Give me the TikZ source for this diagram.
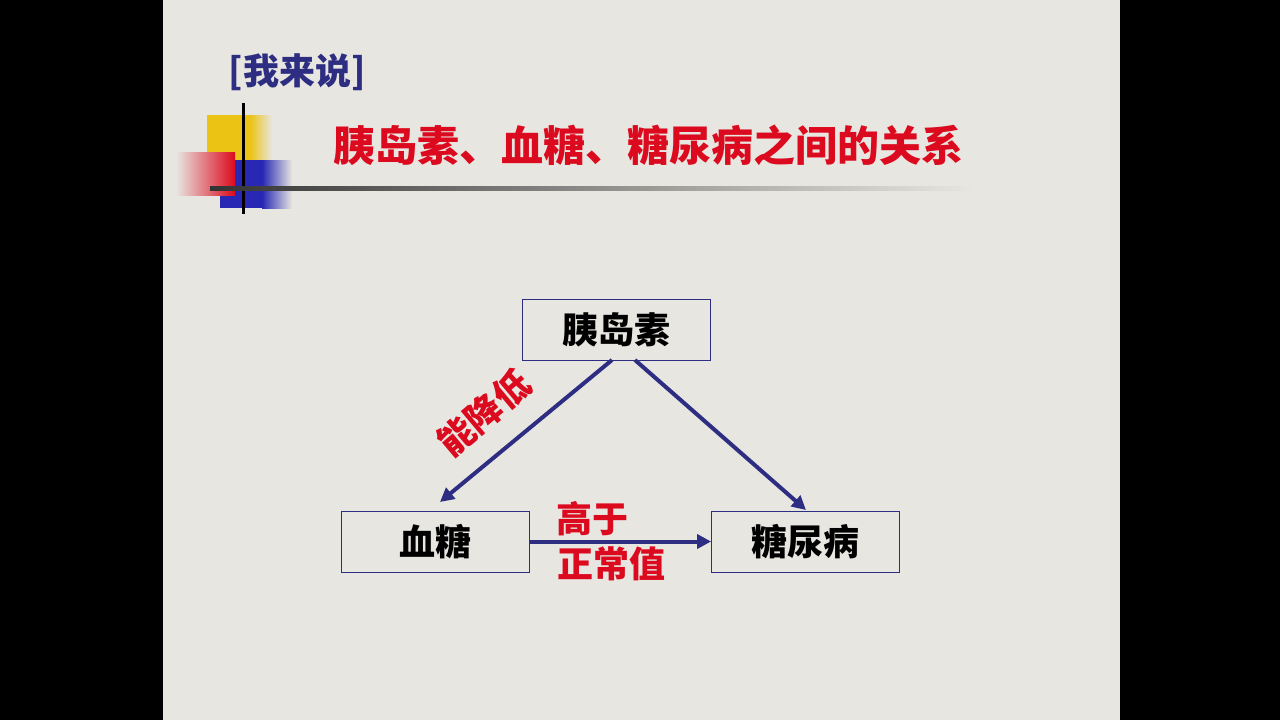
\documentclass[tikz,border=0pt]{standalone}
\usepackage{fontspec}
\newfontfamily\cjk{Noto Sans CJK SC}
\usetikzlibrary{arrows.meta}
\definecolor{slidebg}{RGB}{232,230,225}
\definecolor{navy}{RGB}{45,45,130}
\definecolor{titlered}{RGB}{220,10,30}
\definecolor{deco yellow}{RGB}{235,195,20}
\definecolor{deco blue}{RGB}{40,40,180}
\tikzset{
  box/.style={draw=navy, fill=slidebg, minimum width=94pt, minimum height=30.5pt, inner sep=0pt, font=\cjk\bfseries\fontsize{18}{18}\selectfont},
  link/.style={navy, line width=2pt, -{Triangle[length=7pt,width=7pt]}},
  redlabel/.style={titlered, inner sep=0pt, font=\cjk\bfseries\fontsize{18}{18}\selectfont}
}
\begin{document}
\begin{tikzpicture}[x=0.5pt,y=-0.5pt]
\useasboundingbox (0,0) rectangle (1280,720);
\fill[black] (0,0) rectangle (1280,720);
\fill[slidebg] (163,0) rectangle (1120,720);

% decoration
\fill[deco yellow] (207,115) rectangle (250,160);
\shade[left color=deco yellow, right color=slidebg] (250,115) rectangle (272,160);
\fill[deco blue] (220,160) rectangle (262,208);
\shade[left color=deco blue, right color=slidebg] (262,160) rectangle (292,208);
\shade[left color=slidebg, right color=titlered] (176,152) rectangle (235,195);
\draw[black, line width=1.5pt] (243,103) -- (243,214);
\shade[left color=black!80, right color=slidebg] (210,186) rectangle (975,190);

\node[navy, font=\cjk\bfseries\fontsize{18}{18}\selectfont] (say) at (297,72) {[我来说]};
\node[titlered, font=\cjk\bfseries\fontsize{21}{21}\selectfont] (title) at (648,145) {胰岛素、血糖、糖尿病之间的关系};

% diagram
\node[box] (insulin) at (616.5,329.5) {胰岛素};
\node[box] (sugar) at (435,541.5) {血糖};
\node[box] (diabetes) at (805.5,541.5) {糖尿病};

\draw[link] (612,360) -- (440,502);
\draw[link] (635,360) -- (806,510);
\draw[link] (sugar.east) -- (diabetes.west);

\node[redlabel, rotate=40] (lower) at (484,413) {能降低};
\node[redlabel] (above) at (592,519) {高于};
\node[redlabel] (normal) at (611,564) {正常值};
\end{tikzpicture}
\end{document}
